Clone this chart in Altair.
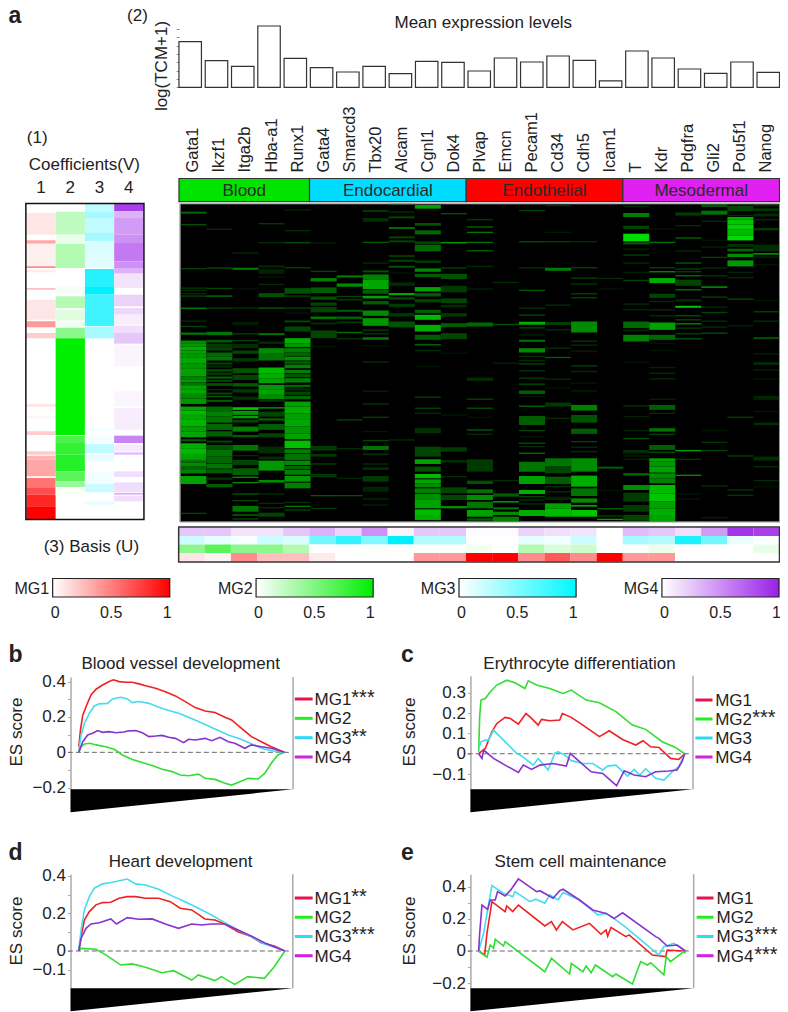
import altair as alt
import pandas as pd

W, H = 772, 1004
FONT = "Liberation Sans"
INK = "#222222"

GENES = ["Gata1","Ikzf1","Itga2b","Hba-a1","Runx1","Gata4","Smarcd3","Tbx20","Alcam","Cgnl1","Dok4",
         "Plvap","Emcn","Pecam1","Cd34","Cdh5","Icam1","T","Kdr","Pdgfra","Gli2","Pou5f1","Nanog"]
MEAN_EXPR = [5.48,3.2,2.52,7.36,3.48,2.36,1.84,2.52,1.64,3.12,3.0,1.96,3.52,3.04,3.76,3.24,.76,4.36,3.52,2.2,1.68,3.04,1.8]
GROUPS = ["Blood","Endocardial","Endothelial","Mesodermal"]
GROUP_START = [0,5,11,17]
GROUP_STOP = [5,11,17,23]
GROUP_COLORS = ["#00e400","#00dcff","#ff0000","#e020f0"]

# (1) coefficient bands: start row, stop row, level
COEF_MG1 = [(40,105,.1),(122,132,.35),(132,200,.06),(200,205,.45),(210,218,.08),(265,270,.25),(300,360,.1),(365,383,.4),(400,416,.2),
            (612,622,.1),(650,656,.05),(695,706,.2),(755,765,.2),(768,780,.3),(780,830,.35),(835,865,.55),(865,885,.7),(885,920,.85),(920,958,1)]
COEF_MG2 = [(36,105,.25),(105,130,.08),(132,205,.3),(262,285,.03),(290,325,.3),(330,362,.12),(365,382,.06),(384,416,.45),(416,706,1),
            (708,730,.7),(730,765,.8),(765,815,.85),(815,845,.65),(845,862,.4),(862,890,.02)]
COEF_MG3 = [(13,35,.25),(35,55,.35),(55,100,.25),(100,125,.35),(125,160,.15),(160,205,.12),(208,262,.85),(262,285,1),(285,380,.75),(382,416,.35),
            (685,695,.05),(708,730,.05),(733,760,.25),(765,785,.1),(815,850,.05),(852,878,.2),(905,915,.1)]
COEF_MG4 = [(13,35,.85),(35,55,.35),(55,105,.45),(105,130,.5),(130,185,.6),(185,205,.5),(205,222,.35),(222,265,.12),(285,320,.2),(325,345,.18),
            (345,375,.08),(378,400,.15),(400,432,.25),(435,500,.05),(575,620,.04),(625,690,.08),(708,730,.55),(735,755,.1),(758,765,.3),(815,832,.15),
            (848,878,.15),(880,885,.35),(888,905,.15)]

# (3) basis values per gene
BASIS_MG4 = [.25,.25,.12,.12,.25,.35,.2,.5,.05,.25,.25,.02,.02,.2,.15,.12,0,.3,.25,.15,.45,.9,.85]
BASIS_MG3 = [.2,.1,.03,.2,.15,.55,.8,.5,1,.3,.3,0,0,.1,.05,.2,0,.35,.3,.9,.55,.08,.02]
BASIS_MG2 = [.45,.65,.45,.45,.3,0,0,.02,.01,.02,.02,.05,0,.3,.15,.2,0,.02,.07,0,0,0,.1]
BASIS_MG1 = [.1,.05,.45,.25,.25,.08,0,0,0,.4,.4,1,1,.45,.65,.45,1,.4,.4,0,0,0,0]
MG = ["MG1","MG2","MG3","MG4"]
MG_COLORS = ["#ff0000","#00ee00","#00f0ff","#9a20e8"]

# heat map bands per gene: (centre row, level) for thin stripes, (start, stop, level) for wider ones
GATA1 = [(36,42,.45),(75,.35),(207,.3),(265,.25),(272,.2),(282,.2),(289,.3),(323,328,.5),(364,.2),(378,382,.3),(398,405,.5),(422,430,.6),(430,440,.65),(440,452,.75),(452,462,.7),(462,474,.65),(474,490,.72),(490,505,.65),(505,530,.7),(530,538,.55),(538,548,.65),(548,556,.5),(556,568,.7),(568,582,.72),(582,596,.6),(596,612,.65),(620,632,.72),(632,645,.8),(645,660,.72),(660,680,.78),(680,695,.68),(695,712,.72),(718,724,.4),(730,745,.75),(745,762,.8),(762,780,.7),(780,788,.5),(788,800,.6),(800,810,.45),(810,820,.55),(828,852,.7),(940,.3)]
IKZF1 = [(89,.2),(205,.35),(266,.3),(289,.5),(325,.3),(396,406,.5),(420,428,.4),(432,445,.25),(445,452,.3),(458,470,.45),(470,482,.5),(488,494,.3),(497,503,.2),(508,515,.35),(518,526,.25),(530,536,.45),(540,546,.3),(550,558,.35),(569,.2),(578,584,.3),(590,.4),(600,606,.4),(620,634,.45),(634,650,.55),(650,668,.5),(672,690,.45),(694,710,.4),(722,728,.3),(735,750,.35),(750,770,.5),(770,790,.45),(792,806,.5),(808,820,.4),(832,840,.2),(852,862,.4)]
ITGA2B = [(160,.2),(204,210,.55),(268,.1),(325,.2),(366,376,.12),(402,.3),(422,.3),(432,445,.2),(452,462,.3),(475,485,.25),(505,520,.35),(525,540,.3),(550,560,.4),(568,578,.25),(590,600,.2),(622,630,.85),(633,645,.65),(648,655,.7),(660,668,.3),(680,695,.55),(705,712,.4),(735,752,.5),(767,.2),(780,795,.3),(805,825,.4),(832,.6),(848,.6),(882,.4),(902,.3),(918,935,.5),(945,.5),(957,.3)]
HBA = [(72,.25),(129,.2),(196,204,.15),(208,222,.15),(232,.1),(254,.2),(280,292,.35),(325,.4),(400,406,.5),(425,432,.2),(445,462,.6),(462,482,.5),(503,520,.8),(520,535,.75),(535,550,.7),(555,570,.65),(570,585,.7),(585,598,.6),(603,.3),(624,.7),(635,650,.3),(655,662,.4),(672,690,.4),(700,712,.3),(740,760,.2),(770,778,.2),(782,812,.65),(840,848,.6),(882,.2),(910,.2),(923,.2),(938,950,.3)]
RUNX1 = [(31,.15),(93,.2),(129,.35),(204,.3),(265,282,.35),(289,.3),(322,328,.2),(340,.1),(362,368,.3),(380,395,.3),(415,430,.75),(430,442,.65),(445,458,.55),(458,468,.45),(470,482,.6),(484,492,.4),(494,505,.55),(510,520,.55),(523,532,.4),(535,548,.55),(555,562,.45),(565,572,.2),(575,585,.3),(588,598,.45),(605,620,.7),(620,640,.75),(640,660,.68),(660,680,.72),(680,700,.65),(700,718,.7),(722,745,.82),(748,760,.55),(762,780,.5),(782,795,.6),(798,808,.45),(810,824,.55),(828,845,.65),(848,865,.55),(907,.2),(919,.5),(930,.3)]
GATA4 = [(130,.15),(215,.3),(235,245,.55),(263,280,.4),(290,300,.35),(308,318,.3),(322,338,.3),(350,358,.5),(368,374,.2),(392,415,.3),(440,.1),(738,752,.25),(762,770,.25),(792,.3),(822,832,.25),(887,.4),(925,.25)]
SMARCD3 = [(227,233,.55),(251,261,.6),(290,.3),(300,.3),(330,336,.4),(350,358,.4),(365,370,.25),(398,.5),(417,.25),(660,.3),(746,.2),(835,.15),(887,.35)]
TBX20 = [(34,.35),(55,66,.2),(128,.4),(190,.2),(212,218,.35),(224,240,.55),(240,268,.72),(270,282,.4),(288,296,.7),(304,314,.4),(332,348,.6),(355,378,.65),(388,394,.2),(402,.25),(412,420,.5),(438,.1),(486,.2),(574,.15),(612,.25),(652,.3),(695,.1),(722,.3),(738,750,.5),(760,766,.2),(792,.2),(802,810,.2),(828,845,.25),(860,875,.15),(897,.2),(915,.15)]
ALCAM = [(14,.2),(37,.2),(50,56,.3),(82,88,.45),(110,116,.3),(122,128,.3),(166,172,.25),(180,186,.3),(198,204,.35),(220,.1),(248,258,.2),(280,286,.75),(292,300,.3),(312,322,.25),(340,350,.25),(365,383,.35),(720,.2)]
CGNL1 = [(16,27,.7),(70,78,.35),(92,104,.45),(125,133,.3),(135,155,.45),(182,190,.25),(206,216,.6),(222,232,.4),(262,275,.7),(280,290,.4),(298,308,.3),(330,340,.4),(345,360,.8),(375,395,.75),(405,420,.4),(435,.5),(452,.2),(500,.1),(592,.3),(625,.3),(640,.2),(684,700,.2),(740,770,.3),(778,792,.7),(800,815,.35),(822,835,.8),(838,850,.7),(850,862,.6),(865,880,.55),(882,900,.6),(900,925,.7),(928,945,.8),(945,960,.75)]
DOK4 = [(42,.35),(129,.7),(205,.3),(222,238,.35),(258,278,.25),(296,310,.3),(315,322,.2),(340,350,.25),(370,382,.4),(400,418,.3),(460,.1),(645,.1),(742,755,.25),(780,788,.2),(830,.2),(862,880,.3),(885,900,.3),(918,925,.6)]
PLVAP = [(60,.25),(82,.45),(98,.5),(128,.5),(153,.4),(200,.2),(268,.15),(368,380,.45),(533,543,.2),(598,.3),(625,.35),(652,.1),(690,.4),(703,.2),(778,815,.25),(842,852,.35),(868,880,.5),(885,900,.6),(905,925,.5),(930,950,.7),(955,962,.4)]
EMCN = [(248,.2),(374,.35),(490,.15),(842,.2),(880,890,.4),(903,908,.6),(922,928,.5),(935,945,.6),(950,965,.55)]
PECAM1 = [(33,.3),(126,.3),(204,.2),(272,.4),(325,.25),(346,.35),(366,375,.75),(384,.3),(405,.15),(420,426,.5),(445,458,.6),(470,.2),(482,.2),(492,.3),(513,.25),(535,.3),(553,.3),(572,582,.4),(590,.1),(619,.4),(648,675,.4),(692,.3),(710,.1),(730,.3),(740,.2),(760,.4),(785,815,.5),(828,852,.7),(870,882,.75),(890,.3),(900,.2),(912,.2),(930,948,.75)]
CD34 = [(18,.2),(98,.1),(126,.3),(204,213,.55),(316,.2),(367,375,.3),(390,.2),(445,.2),(473,.4),(538,.2),(565,.1),(608,620,.25),(655,.2),(775,800,.5),(800,820,.3),(830,852,.4),(860,.2),(875,.2),(890,900,.15),(910,925,.7),(925,950,.8)]
CDH5 = [(126,.2),(204,.3),(235,.3),(253,.25),(282,.3),(294,.3),(365,398,.6),(424,.25),(436,.2),(454,.15),(498,.3),(515,.2),(550,.1),(573,.15),(615,632,.55),(645,668,.35),(686,702,.4),(725,.3),(742,.2),(755,.2),(775,815,.6),(827,860,.75),(865,888,.5),(895,908,.6),(915,920,.7),(930,950,.85)]
ICAM1 = [(236,.2),(268,.1),(800,806,.4),(872,.1),(926,.4),(948,.3),(958,.7)]
T_GENE = [(20,.2),(40,52,.55),(78,88,.3),(102,125,.95),(128,134,.4),(148,.15),(166,.3),(190,.2),(218,.15),(242,.3),(313,.2),(330,.2),(365,385,.45),(392,.2),(405,425,.55),(487,.1),(618,.25),(650,.15),(692,.15),(716,.35),(750,760,.2),(768,.15),(778,.15),(820,826,.5),(855,870,.6),(878,905,.25),(915,935,.25),(945,962,.3)]
KDR = [(88,.1),(128,.5),(204,.3),(216,.6),(235,250,.75),(282,294,.3),(305,.2),(330,.2),(348,.2),(368,390,.7),(405,420,.45),(430,.1),(452,.1),(503,.15),(520,.2),(537,.2),(598,.15),(615,630,.4),(640,.2),(685,695,.5),(703,.3),(735,750,.4),(757,.35),(775,785,.7),(785,800,.65),(800,818,.7),(820,835,.6),(835,850,.55),(855,880,.8),(880,905,.85),(905,925,.7),(925,945,.75),(945,965,.7)]
PDGFRA = [(38,48,.25),(78,.2),(112,118,.3),(154,.2),(190,.4),(208,.3),(216,.3),(228,.5),(240,258,.3),(270,.5),(298,305,.2),(318,324,.85),(348,.35),(360,.3),(372,.6),(385,.25),(402,.3),(417,.4),(752,.7),(778,.25),(826,.6),(882,.1),(897,.1)]
GLI2 = [(14,22,.35),(33,45,.5),(65,.2),(122,.1),(142,.15),(173,.3),(205,.2),(228,.25),(262,.75),(292,.3),(322,.2),(338,.3),(364,.2),(382,.2),(400,.35),(692,.1),(727,.25),(752,.3),(858,.2),(953,.15)]
POU5F1 = [(18,34,.3),(45,50,.2),(52,60,.75),(60,75,.85),(75,90,.9),(90,108,.8),(108,122,.95),(132,142,.2),(147,155,.45),(162,172,.6),(182,200,.65),(218,.15),(234,.2),(298,.35),(378,.15),(652,.3),(768,.3),(870,.25),(886,.25)]
NANOG = [(14,20,.2),(26,34,.25),(42,50,.2),(60,.2),(85,92,.25),(135,155,.2),(160,165,.6),(172,.2),(195,.1),(302,.1),(336,.3),(364,.2),(412,418,.35),(462,.15),(487,495,.2),(510,.15),(537,.1),(588,600,.15),(635,.1),(668,676,.2),(770,782,.2),(800,.2),(842,.2),(860,.1)]
HEAT = [GATA1,IKZF1,ITGA2B,HBA,RUNX1,GATA4,SMARCD3,TBX20,ALCAM,CGNL1,DOK4,PLVAP,EMCN,PECAM1,CD34,CDH5,ICAM1,T_GENE,KDR,PDGFRA,GLI2,POU5F1,NANOG]

# enrichment curves: (gene rank, ES score)
B_MG1 = [(238,.03),(243,.126),(250,.21),(262,.268),(275,.325),(290,.357),(310,.381),(330,.40),(343,.41),(360,.40),(380,.396),(400,.396),(420,.387),(440,.377),(470,.362),(500,.343),(530,.319),(560,.287),(590,.253),(620,.234),(650,.225),(680,.198),(700,.183),(730,.136),(760,.089),(790,.06),(820,.032),(860,0)]
B_MG3 = [(238,.013),(245,.098),(255,.164),(270,.221),(285,.262),(300,.274),(325,.277),(340,.302),(365,.311),(385,.302),(400,.281),(420,.287),(450,.277),(480,.255),(510,.236),(540,.221),(570,.198),(600,.174),(630,.149),(660,.123),(690,.098),(720,.079),(750,.057),(780,.032),(800,.017),(830,.006),(860,0)]
B_MG4 = [(238,0),(250,.06),(265,.098),(280,.108),(295,.123),(310,.113),(330,.117),(350,.111),(375,.115),(385,.121),(410,.123),(430,.111),(450,.089),(470,.092),(490,.096),(510,.085),(530,.079),(555,.055),(570,.074),(590,.07),(620,.079),(640,.066),(665,.085),(690,.06),(710,.051),(740,.023),(760,.042),(790,.032),(820,.023),(860,0)]
B_MG2 = [(238,0),(245,.032),(255,.047),(272,.051),(290,.042),(320,.032),(345,.017),(370,-.015),(400,-.04),(430,-.058),(460,-.075),(490,-.096),(520,-.109),(545,-.128),(570,-.132),(600,-.123),(620,-.147),(650,-.153),(680,-.175),(700,-.185),(720,-.17),(750,-.147),(780,-.151),(800,-.119),(820,-.062),(840,-.015),(860,0)]
C_MG2 = [(265,.01),(268,.182),(272,.264),(285,.272),(300,.305),(320,.338),(350,.362),(375,.349),(405,.321),(415,.359),(440,.338),(480,.321),(520,.297),(545,.313),(590,.264),(630,.251),(680,.207),(730,.141),(770,.12),(820,.059),(860,.031),(888,0)]
C_MG1 = [(265,0),(285,.026),(305,.108),(320,.149),(345,.179),(360,.174),(385,.146),(408,.198),(425,.174),(445,.141),(455,.169),(480,.162),(510,.166),(518,.198),(545,.179),(580,.141),(630,.084),(660,.113),(700,.07),(740,.043),(762,.064),(785,.034),(810,.031),(845,-.023),(870,-.028),(888,0)]
C_MG3 = [(265,.026),(272,.059),(285,.067),(295,.067),(310,.116),(340,.067),(380,.002),(395,-.011),(430,-.056),(445,-.023),(475,-.08),(495,.002),(505,.01),(525,-.007),(545,-.034),(580,-.048),(610,-.048),(640,-.08),(655,-.061),(680,-.056),(715,-.11),(735,-.077),(752,-.105),(770,-.074),(800,-.121),(825,-.13),(850,-.089),(870,-.064),(888,0)]
C_MG4 = [(265,0),(275,-.023),(280,.018),(310,-.023),(345,-.056),(385,-.092),(400,-.056),(425,-.077),(450,-.056),(490,-.048),(530,-.061),(542,.002),(570,-.039),(605,-.089),(640,-.097),(682,-.157),(705,-.084),(735,-.105),(770,-.113),(800,-.089),(840,-.085),(865,-.08),(880,-.039),(888,0)]
D_MG3 = [(238,.005),(245,.112),(255,.219),(270,.29),(285,.335),(310,.358),(340,.367),(385,.384),(410,.358),(440,.352),(480,.329),(520,.294),(560,.263),(600,.228),(640,.192),(680,.151),(720,.112),(760,.076),(800,.037),(830,.02),(862,0)]
D_MG1 = [(238,0),(245,.077),(255,.165),(270,.21),(290,.246),(310,.258),(335,.26),(360,.281),(385,.29),(410,.29),(440,.281),(480,.281),(515,.263),(545,.228),(580,.219),(620,.171),(650,.165),(680,.144),(720,.103),(760,.077),(790,.044),(830,.027),(862,0)]
D_MG4 = [(238,0),(245,.068),(260,.121),(275,.144),(300,.151),(335,.171),(352,.144),(385,.178),(420,.169),(460,.171),(500,.144),(540,.121),(580,.144),(610,.139),(640,.144),(680,.144),(720,.112),(760,.08),(800,.044),(862,0)]
D_MG2 = [(238,0),(245,.014),(290,.009),(320,-.021),(365,-.075),(400,-.069),(440,-.087),(490,-.116),(525,-.105),(580,-.155),(600,-.128),(650,-.158),(670,-.137),(710,-.178),(750,-.137),(800,-.146),(830,-.084),(862,0)]
E_MG4 = [(265,0),(268,.11),(275,.286),(292,.259),(300,.317),(315,.317),(322,.369),(345,.342),(362,.38),(385,.448),(440,.369),(450,.375),(490,.328),(510,.375),(520,.384),(570,.317),(610,.255),(650,.234),(675,.203),(700,.238),(800,.089),(810,.079),(835,.031),(865,.037),(890,0)]
E_MG3 = [(265,0),(280,.11),(292,.255),(305,.407),(340,.359),(368,.338),(375,.369),(420,.307),(438,.322),(465,.297),(480,.349),(505,.317),(520,.363),(570,.317),(625,.224),(650,.234),(680,.193),(710,.147),(810,-.025),(825,.027),(855,.048),(890,0)]
E_MG1 = [(265,0),(283,-.025),(290,.11),(305,.307),(345,.245),(350,.28),(368,.245),(385,.286),(465,.156),(485,.183),(500,.131),(518,.183),(550,.131),(600,.172),(635,.104),(650,.131),(655,.093),(665,.147),(710,.089),(720,.1),(790,-.025),(830,-.035),(835,.006),(870,.002),(890,0)]
E_MG2 = [(265,0),(290,-.039),(300,.037),(310,.017),(315,.073),(340,.031),(345,.058),(465,-.129),(485,-.046),(540,-.143),(545,-.077),(580,-.129),(590,-.093),(605,-.135),(618,-.087),(670,-.16),(680,-.143),(730,-.205),(745,-.118),(755,-.066),(775,-.087),(785,-.073),(825,-.149),(832,-.035),(845,-.066),(885,-.004),(890,-.015)]

LINE_COLORS = ["#ee2222","#33dd33","#44ddee","#8833cc"]
LEGEND_COLORS = ["#e8144c","#22ee22","#30d8f8","#d020e0"]

COLORBAR_TICKS = [0,.5,1]


# the page margin leaves 772 px of width: squeeze the reference's span (8..786) into it
def X(v): return (v - 8) * 772 / 778
def Y(v): return v - 8


def label(text, x, y, size=17, weight="normal", angle=0, align="left", color=INK):
    return alt.Chart(pd.DataFrame({"t":[text]})).mark_text(
        font=FONT, fontSize=size, fontWeight=weight, angle=angle, align=align,
        baseline="alphabetic", color=color
    ).encode(text="t:N", x=alt.value(X(x)), y=alt.value(Y(y)))


def frame(x0, x1, y0, y1, fill=None, stroke=None, sw=1.0):
    kw = {"fill": fill if fill else "transparent"}
    if stroke:
        kw.update(stroke=stroke, strokeWidth=sw)
    df = pd.DataFrame({"a":[0],"b":[1],"c":[0],"d":[1]})
    return alt.Chart(df).mark_rect(**kw).encode(
        x=alt.X("a:Q", scale=alt.Scale(domain=[0,1], range=[X(x0),X(x1)], nice=False, zero=False), axis=None),
        x2="b:Q",
        y=alt.Y("c:Q", scale=alt.Scale(domain=[0,1], range=[Y(y0),Y(y1)], nice=False, zero=False), axis=None),
        y2="d:Q",
    )


def ramp(low, high):
    return alt.Scale(domain=[0,1], range=[low,high], interpolate="rgb")


layers = []

# --- bars
bar_x = alt.Scale(domain=GENES, range=[X(180.3),X(785.5)], paddingInner=.145, paddingOuter=0)
layers.append(alt.Chart(pd.DataFrame({"g":GENES,"v":MEAN_EXPR})).mark_bar(fill="white", stroke="#333333", strokeWidth=1.2).encode(
    x=alt.X("g:N", scale=bar_x, axis=None),
    y=alt.Y("v:Q", scale=alt.Scale(domain=[0,7.36], range=[Y(87.3),Y(26)], nice=False, zero=False),
            axis=alt.Axis(orient="left", offset=-X(180.5), values=[0,1,2,3,4,5,6,7], labels=False, title=None, grid=False,
                          domain=False, tickColor="#888888", tickSize=3)),
))

# --- group strip
gdf = pd.DataFrame({"n":GROUPS,"a":GROUP_START,"b":GROUP_STOP})
gdf["m"] = (gdf.a + gdf.b) / 2
gx = alt.Scale(domain=[0,23], range=[X(180.3),X(785.5)], nice=False, zero=False)
layers.append(alt.Chart(gdf).mark_rect(stroke="#333333", strokeWidth=1.2).encode(
    x=alt.X("a:Q", scale=gx, axis=None), x2="b:Q",
    y=alt.value(Y(178.5)), y2=alt.value(Y(201.7)),
    color=alt.Color("n:N", scale=alt.Scale(domain=GROUPS, range=GROUP_COLORS), legend=None),
))
layers.append(alt.Chart(gdf).mark_text(font=FONT, fontSize=17, baseline="alphabetic", color="#2a2a2a").encode(
    x=alt.X("m:Q", scale=gx, axis=None), y=alt.value(Y(196)), text="n:N"))

# --- heat map
layers.append(frame(181.7,785.5,204,521.7, fill="#000000"))
rows = []
for g, bands in zip(GENES, HEAT):
    for b in bands:
        if len(b) == 2:
            rows.append((g, b[0]-2, b[0]+2, b[1]))
        else:
            rows.append((g, b[0], b[1], b[2]))
hdf = pd.DataFrame(rows, columns=["g","a","b","v"])
heat_y = alt.Scale(domain=[13,965], range=[Y(204),Y(521.7)], nice=False, zero=False)
layers.append(alt.Chart(hdf).mark_rect(strokeWidth=0).encode(
    x=alt.X("g:N", sort=GENES, scale=alt.Scale(domain=GENES, range=[X(181.7),X(785.5)], paddingInner=0, paddingOuter=0),
            axis=alt.Axis(orient="top", offset=-Y(174), title=None, labelAngle=-90, labelAlign="left", labelBaseline="middle",
                          labelFontSize=16.5, labelFont=FONT, labelColor=INK, labelPadding=2, ticks=False, domain=False, grid=False,
                          labelOverlap=False, labelBound=False, labelFlush=False)),
    y=alt.Y("a:Q", scale=heat_y, axis=None), y2="b:Q",
    color=alt.Color("v:Q", scale=ramp("#000000","#00e800"), legend=None),
))
layers.append(frame(181.2,785.7,203.8,522, stroke="#999999", sw=1))

# --- coefficients
for i, (name, col, bands) in enumerate(zip("1234", MG_COLORS, [COEF_MG1,COEF_MG2,COEF_MG3,COEF_MG4])):
    df = pd.DataFrame(bands, columns=["a","b","v"])
    df["c"] = name
    ax = None
    if i == 0:
        ax = alt.Axis(orient="top", offset=-Y(198), title=None, labelAngle=0, labelFontSize=17, labelFont=FONT, labelColor=INK,
                      ticks=False, domain=False, grid=False, labelPadding=2)
    layers.append(alt.Chart(df).mark_rect(strokeWidth=0).encode(
        x=alt.X("c:N", scale=alt.Scale(domain=list("1234"), range=[X(26.5),X(144.5)], paddingInner=0, paddingOuter=0), axis=ax),
        y=alt.Y("a:Q", scale=alt.Scale(domain=[13,958], range=[Y(204),Y(519)], nice=False, zero=False), axis=None), y2="b:Q",
        color=alt.Color("v:Q", scale=ramp("#ffffff",col), legend=None),
    ))
layers.append(frame(26,145,203.5,519.5, stroke="#111111", sw=1.5))

# --- basis
for name, col, vals in zip(["MG4","MG3","MG2","MG1"], MG_COLORS[::-1], [BASIS_MG4,BASIS_MG3,BASIS_MG2,BASIS_MG1]):
    df = pd.DataFrame({"g":GENES,"v":vals,"r":name})
    layers.append(alt.Chart(df).mark_rect(strokeWidth=0).encode(
        x=alt.X("g:N", scale=alt.Scale(domain=GENES, range=[X(180),X(785.5)], paddingInner=0, paddingOuter=0), axis=None),
        y=alt.Y("r:N", scale=alt.Scale(domain=["MG4","MG3","MG2","MG1"], range=[Y(527.5),Y(561.5)], paddingInner=0, paddingOuter=0), axis=None),
        color=alt.Color("v:Q", scale=ramp("#ffffff",col), legend=None),
    ))
layers.append(frame(180,785.5,527,562, stroke="#333333", sw=1.5))

# --- colour bars
BAR_BOX = [(53,171),(258,376),(462.5,580.5),(667,785)]
BAR_TICK0 = [55,260,464.5,669]
BAR_TICK1 = [168,372.5,577,782]
for (x0,x1), t0, t1, col, name in zip(BAR_BOX, BAR_TICK0, BAR_TICK1, ["#ff0000","#00ee00","#00f8ff","#9a20e8"], MG):
    per = (t1-t0)
    dom = [(x0-t0)/per, (x1-t0)/per]
    grad = alt.Gradient(gradient="linear", stops=[alt.GradientStop(offset=0,color="#ffffff"),alt.GradientStop(offset=1,color=col)], x1=0,x2=1,y1=0,y2=0)
    df = pd.DataFrame({"a":[dom[0]],"b":[dom[1]]})
    layers.append(alt.Chart(df).mark_rect(fill=grad, stroke="#222222", strokeWidth=1.2).encode(
        x=alt.X("a:Q", scale=alt.Scale(domain=dom, range=[X(x0),X(x1)], nice=False, zero=False),
                axis=alt.Axis(orient="bottom", offset=-(H-Y(597)), values=COLORBAR_TICKS, title=None, ticks=False, domain=False, grid=False,
                              labelFontSize=16, labelFont=FONT, labelColor=INK, labelPadding=7, labelFlush=False, labelBound=False,
                              labelOverlap=False,
                              labelExpr="datum.value==0?'0':datum.value==1?'1':'0.5'")),
        x2="b:Q", y=alt.value(Y(578.5)), y2=alt.value(Y(597)),
    ))
    layers.append(label(name, x0-3.5, 594, size=16, align="right"))


# --- enrichment panels
def panel(series, box, rank_dom, v_top, v_bot, v_wedge, ticks, tick_labels, dash_span):
    x0, x1, y0, y1 = box
    xs = alt.Scale(domain=rank_dom, range=[X(x0),X(x1)], nice=False, zero=False)
    ys = alt.Scale(domain=[v_bot,v_top], range=[Y(y1),Y(y0)], nice=False, zero=False)
    expr = "''"
    for v, s in zip(ticks, tick_labels):
        if s:
            expr = f"abs(datum.value-({v}))<0.001?'{s}':" + expr
    rows = []
    for nm, pts in zip(MG, series):
        rows += [(nm, a, b) for a, b in pts]
    ldf = pd.DataFrame(rows, columns=["s","r","v"])
    wedge = alt.Chart(pd.DataFrame({"r":rank_dom,"a":[v_bot,v_bot],"b":[v_wedge,v_bot]})).mark_area(color="#000000").encode(
        x=alt.X("r:Q", scale=xs, axis=None), y=alt.Y("a:Q", scale=ys, axis=None), y2="b:Q")
    rline = alt.Chart(pd.DataFrame({"r":[rank_dom[1]],"a":[v_top],"b":[v_bot]})).mark_rule(color="#aaaaaa", strokeWidth=1.5).encode(
        x=alt.X("r:Q", scale=xs, axis=None),
        y=alt.Y("a:Q", scale=ys, axis=alt.Axis(orient="left", offset=-X(x0), values=ticks, title=None, grid=False, labelExpr=expr,
                                               labelFontSize=17, labelFont=FONT, labelColor=INK, labelPadding=2, tickSize=3,
                                               tickColor="#aaaaaa", domainColor="#aaaaaa", domainWidth=1.5, labelOverlap=False,
                                               labelBound=False, labelFlush=False)),
        y2="b:Q")
    zero = alt.Chart(pd.DataFrame({"r":[dash_span[0]],"q":[dash_span[1]],"v":[0]})).mark_rule(color="#666666", strokeWidth=1, strokeDash=[5,3]).encode(
        x=alt.X("r:Q", scale=xs, axis=None), x2="q:Q", y=alt.Y("v:Q", scale=ys, axis=None))
    lines = alt.Chart(ldf).mark_line(strokeWidth=1.6, interpolate="linear").encode(
        x=alt.X("r:Q", scale=xs, axis=None),
        y=alt.Y("v:Q", scale=ys, axis=None),
        color=alt.Color("s:N", scale=alt.Scale(domain=MG, range=LINE_COLORS), legend=None),
    )
    return [rline, zero, lines, wedge]


def legend(x0, x1, xt, ys, stars, xs):
    df = pd.DataFrame({"n":MG,"i":[0,1,2,3],"st":stars})
    yscale = alt.Scale(domain=[0,3], range=[Y(ys[0]),Y(ys[1])], nice=False, zero=False)
    r = alt.Chart(df).mark_rule(strokeWidth=3).encode(
        x=alt.value(X(x0)), x2=alt.value(X(x1)), y=alt.Y("i:Q", scale=yscale, axis=None),
        color=alt.Color("n:N", scale=alt.Scale(domain=MG, range=LEGEND_COLORS), legend=None))
    t = alt.Chart(df).mark_text(font=FONT, fontSize=17, align="left", baseline="alphabetic", dy=6, color=INK).encode(
        x=alt.value(X(xt)), y=alt.Y("i:Q", scale=yscale, axis=None), text="n:N")
    s = alt.Chart(df).mark_text(font=FONT, fontSize=20, align="left", baseline="alphabetic", dy=5, color=INK).encode(
        x=alt.value(X(xs)), y=alt.Y("i:Q", scale=yscale, axis=None), text="st:N")
    return [r, t, s]


layers += panel([B_MG1,B_MG2,B_MG3,B_MG4], (71,295.3,677,789.3), [213,886], .426, -.209, -.339,
                [-.2,-.1,0,.1,.2,.3,.4], ["−0.2","","0","","0.2","","0.4"], (205,880))
layers += panel([C_MG1,C_MG2,C_MG3,C_MG4], (474,698.3,675.7,789.3), [240,913], .384, -.175, -.288,
                [-.1,0,.1,.2,.3], ["−0.1","0","0.1","0.2","0.3"], (232,905))
layers += panel([D_MG1,D_MG2,D_MG3,D_MG4], (71,295,874.3,988.3), [213,886], .409, -.199, -.322,
                [-.1,0,.1,.2,.3,.4], ["−0.1","0","","0.2","","0.4"], (205,880))
layers += panel([E_MG1,E_MG2,E_MG3,E_MG4], (474,699,874.3,988.3), [240,915], .477, -.232, -.375,
                [-.2,-.1,0,.1,.2,.3,.4], ["−0.2","","0","","0.2","","0.4"], (232,905))

layers += legend(297,315,317,(699,757),["***","","**",""],354)
layers += legend(700.7,718,720.7,(700,757),["","***","",""],758)
layers += legend(297,315,317,(898,955.7),["**","","***",""],354)
layers += legend(702,719,722,(898,955.7),["","","***","***"],760)

# --- free text
TEXTS = [
    ("a",8.5,23,23,"bold",0,"left"),("b",8.5,662,23,"bold",0,"left"),("c",404,662,23,"bold",0,"left"),
    ("d",8.5,860,23,"bold",0,"left"),("e",404,860,23,"bold",0,"left"),
    ("(2)",128,21,17,"normal",0,"left"),("(1)",27,143,17,"normal",0,"left"),
    ("Mean expression levels",487,28,17,"normal",0,"center"),("Coefficients(V)",85,170,17,"normal",0,"center"),
    ("(3) Basis (U)",92,552,17,"normal",0,"center"),
    ("Blood vessel development",182,669,17,"normal",0,"center"),("Erythrocyte differentiation",584,669,17,"normal",0,"center"),
    ("Heart development",182,867,17,"normal",0,"center"),("Stem cell maintenance",585,867,17,"normal",0,"center"),
]
for t in TEXTS:
    layers.append(label(t[0],t[1],t[2],size=t[3],weight=t[4],angle=t[5],align=t[6]))
ROTATED = [("log(TCM+1)",168,66),("ES score",22,732),("ES score",418,732),("ES score",22,931),("ES score",418,931)]
for t in ROTATED:
    layers.append(label(t[0],t[1],t[2],angle=270,align="center"))

chart = alt.layer(*layers).resolve_scale(x="independent", y="independent", color="independent").resolve_axis(
    x="independent", y="independent"
).properties(width=W, height=H, padding=0, autosize=alt.AutoSizeParams(type="none"), background="white").configure_view(stroke=None)

chart.save("out.html", embed_options={"renderer": "svg", "actions": False})
